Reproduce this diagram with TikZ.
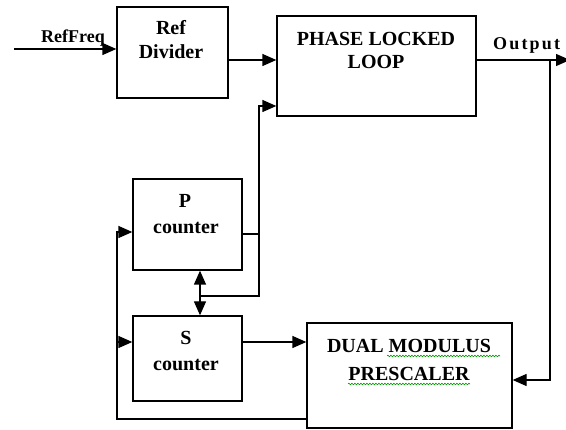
\documentclass[tikz,border=0pt]{standalone}
\usepackage{fontspec}
\setmainfont{Liberation Serif}
\usetikzlibrary{arrows.meta,decorations.pathmorphing}
\begin{document}
\begin{tikzpicture}[x=1pt,y=-1pt,
  blk/.style={draw, line width=1.3pt, inner sep=0pt, rectangle},
  lbl/.style={font=\bfseries\fontsize{20}{23}\selectfont, inner sep=0pt, anchor=base},
  small/.style={lbl, font=\bfseries\fontsize{18}{21}\selectfont},
  wire/.style={line width=1.3pt},
  tip/.tip={Triangle[length=14pt,width=12pt]},
  arr/.style={wire, -tip},
  squiggle/.style={draw=green!60!black, line width=0.6pt, decorate,
    decoration={snake, amplitude=0.8pt, segment length=3pt}}]
\useasboundingbox (0,0) rectangle (566,430);

% blocks
\node[blk, minimum width=111pt, minimum height=91pt]  (refdiv) at (172.5,52.5) {};
\node[blk, minimum width=199pt, minimum height=100pt] (pll)    at (376.5,66)   {};
\node[blk, minimum width=109pt, minimum height=91pt]  (pcnt)   at (187.5,224.5) {};
\node[blk, minimum width=109pt, minimum height=85pt]  (scnt)   at (187.5,358.5) {};
\node[blk, minimum width=205pt, minimum height=105pt] (dmp)    at (409.5,375.5) {};

% block captions
\node[lbl] (t1) at (171,35) {Ref};
\node[lbl] (t2) at (171,59) {Divider};
\node[lbl] (t3) at (376,46) {PHASE LOCKED};
\node[lbl] (t4) at (376,69) {LOOP};
\node[lbl] (t5) at (185,208) {P};
\node[lbl] (t6) at (186,234) {counter};
\node[lbl] (t7) at (186,345) {S};
\node[lbl] (t8) at (186,371) {counter};
\node[lbl] (t9) at (409,353) {DUAL MODULUS};
\node[lbl] (t10) at (409,381) {PRESCALER};
\node[small] (rf) at (73,43) {RefFreq};
\node[lbl, anchor=base west, font=\bfseries\fontsize{18}{21}\selectfont\addfontfeature{LetterSpace=12}] (outtxt) at (493,50) {Output};

% spelling squiggles
\draw[squiggle] (387,356) -- (500,356);
\draw[squiggle] (348,384) -- (470,384);

% reference input
\coordinate (rfin) at (14,49);
\draw[arr] (rfin) -- (refdiv.west |- rfin);
\draw[arr] (refdiv.east |- 0,60) -- (pll.west |- 0,60);

% output and feedback to prescaler
\coordinate (out) at (570,60);
\coordinate (tap) at (550,60);
\draw[arr] (pll.east |- out) -- (out);
\draw[arr] (tap) |- (dmp.east |- 0,380);

% P counter output to PLL and to the shared bus
\coordinate (pj) at (259,234);
\coordinate (bus) at (200,296);
\draw[wire] (pcnt.east |- pj) -- (pj);
\draw[arr] (pj) |- (pll.west |- 0,106);
\draw[wire] (pj) |- (bus);
\draw[wire, tip-tip] (pcnt.south -| bus) -- (scnt.north -| bus);

% S counter to prescaler
\draw[arr] (scnt.east |- 0,342) -- (dmp.west |- 0,342);

% prescaler output back to both counters
\coordinate (fb) at (117,419);
\coordinate (sj) at (117,342);
\draw[arr] (dmp.west |- fb) -- (fb) |- (pcnt.west |- 0,232);
\draw[arr] (sj) -- (scnt.west |- sj);
\end{tikzpicture}
\end{document}
